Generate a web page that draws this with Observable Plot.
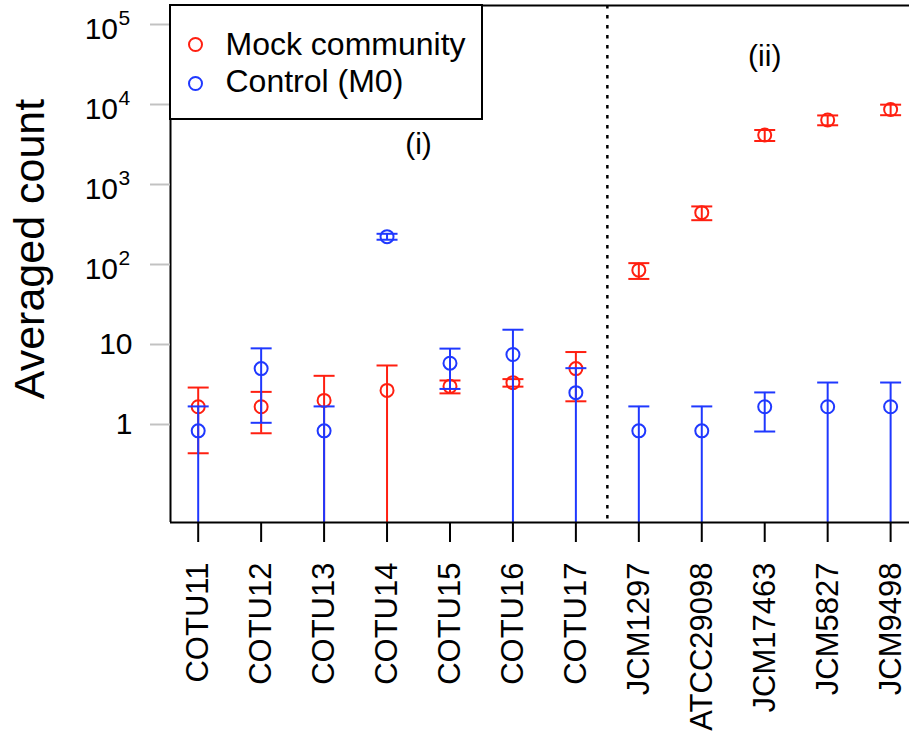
<!DOCTYPE html>
<html>
<head>
<meta charset="utf-8">
<script src="https://cdn.jsdelivr.net/npm/d3@7"></script>
<script src="https://cdn.jsdelivr.net/npm/@observablehq/plot@0.6"></script>
<style>
  body { margin: 0; background: #fff; font-family: "Liberation Sans", Arial, Helvetica, sans-serif; }
  #wrap { position: relative; width: 909px; height: 740px; overflow: hidden; }
  .legend { position: absolute; left: 169px; top: 4px; width: 314px; height: 116px; box-sizing: border-box; border: 2px solid #000; background: #fff; }
  .key { position: absolute; width: 15px; height: 15px; box-sizing: border-box; border: 2px solid; border-radius: 50%; }
  .lab { position: absolute; font-size: 32px; line-height: 32px; white-space: nowrap; color: #000; }
</style>
</head>
<body>
<div id="wrap"></div>
<script>
// Strains / OTUs along the x axis
const categories = ["COTU11", "COTU12", "COTU13", "COTU14", "COTU15", "COTU16", "COTU17",
                    "JCM1297", "ATCC29098", "JCM17463", "JCM5827", "JCM9498"];

// Averaged read counts and their standard deviations
const mockMean    = [1.667, 1.667, 2.0, 2.667, 3.0, 3.333, 5.0, 85, 445, 4150, 6400, 8650];
const mockSd      = [1.23, 0.89, 2.06, 2.8, 0.55, 0.36, 3.05, 19, 87, 650, 900, 1300];
const controlMean = [0.833, 5.0, 0.833, 223, 5.833, 7.5, 2.5, 0.833, 0.833, 1.667, 1.667, 1.667];
const controlSd   = [0.85, 3.95, 0.85, 19, 3.05, 7.8, 2.56, 0.85, 0.85, 0.85, 1.68, 1.68];

// Series names and colours
const seriesNames  = ["Mock community", "Control (M0)"];
const seriesColors = ["#ff1f10", "#1f38ff"];

// Axis ticks
const yTickValues = [1, 10, 100, 1000, 10000, 100000];

// Group annotations
const panelLabels = ["(i)", "(ii)"];
const panelX = [4.5, 10];
const panelY = [3200, 40000];
const groupBreak = 7.5;

// Scale extents
const xDomain = [0.56, 12.3];
const yDomain = [10 ** -1.225, 10 ** 5.2375];

function seriesRows(means, sds, color) {
  return categories.map((c, i) => {
    const lo = means[i] - sds[i];
    return {
      pos: i + 1,
      mean: means[i],
      hi: means[i] + sds[i],
      lo: lo,
      // non-positive lower limits run off the bottom of a log axis
      loDraw: lo > 0 ? lo : yDomain[0],
      color
    };
  });
}

const mockRows = seriesRows(mockMean, mockSd, seriesColors[0]);
const controlRows = seriesRows(controlMean, controlSd, seriesColors[1]);

// horizontal bar used as an error-bar cap
const capSymbol = {
  draw(context, size) {
    const r = Math.sqrt(size / Math.PI);
    context.moveTo(-r, 0);
    context.lineTo(r, 0);
  }
};

function errorMarks(rows) {
  const caps = [
    ...rows.map(d => ({pos: d.pos, v: d.hi, color: d.color})),
    ...rows.filter(d => d.lo > 0).map(d => ({pos: d.pos, v: d.lo, color: d.color}))
  ];
  return [
    Plot.ruleX(rows, {x: "pos", y1: "loDraw", y2: "hi", stroke: "color", strokeWidth: 2}),
    Plot.dot(caps, {x: "pos", y: "v", symbol: capSymbol, r: 10.5, stroke: "color", fill: "none", strokeWidth: 2}),
    Plot.dot(rows, {x: "pos", y: "mean", r: 6.5, stroke: "color", fill: "none", strokeWidth: 2})
  ];
}

const font = '"Liberation Sans", Arial, Helvetica, sans-serif';

const chart = Plot.plot({
  width: 909,
  height: 740,
  marginLeft: 170,
  marginRight: 0,
  marginTop: 5,
  marginBottom: 218,
  style: {fontFamily: font, background: "white", color: "black"},
  x: {type: "linear", domain: xDomain},
  y: {type: "log", domain: yDomain},
  color: {type: "identity"},
  marks: [
    // group divider
    Plot.ruleX([groupBreak], {stroke: "black", strokeWidth: 2.5, strokeDasharray: "3.5,6.5"}),

    ...errorMarks(mockRows),
    ...errorMarks(controlRows),

    // panel labels
    Plot.text(panelLabels, {x: (d, i) => panelX[i], y: (d, i) => panelY[i], text: d => d, fontSize: 30, fill: "black"}),

    // plot frame (left, top, bottom)
    Plot.ruleX([xDomain[0]], {stroke: "black", strokeWidth: 2}),
    Plot.ruleY([yDomain[0]], {stroke: "black", strokeWidth: 2}),
    Plot.ruleY([yDomain[1]], {stroke: "black", strokeWidth: 2}),

    // x axis with rotated category names
    Plot.axisX(d3.range(1, categories.length + 1), {
      tickFormat: d => categories[d - 1],
      tickRotate: -90,
      tickSize: 20,
      tickPadding: 20,
      fontSize: 31,
      color: "black",
      strokeWidth: 2,
      label: null
    }),

    // y axis ticks (grey)
    Plot.axisY(yTickValues, {tickSize: 20, tickFormat: () => "", stroke: "#c2c2c2", strokeWidth: 2, label: null}),

    // y tick labels: plain numbers and powers of ten
    Plot.text(yTickValues.filter(v => v < 100), {
      y: d => d, text: d => String(d), frameAnchor: "left", dx: -38,
      textAnchor: "end", fontSize: 30, fill: "black"
    }),
    Plot.text(yTickValues.filter(v => v >= 100), {
      y: d => d, text: () => "10", frameAnchor: "left", dx: -52.5, dy: 5,
      textAnchor: "end", fontSize: 30, fill: "black"
    }),
    Plot.text(yTickValues.filter(v => v >= 100), {
      y: d => d, text: d => String(Math.round(Math.log10(d))), frameAnchor: "left", dx: -52, dy: -6.5,
      textAnchor: "start", fontSize: 21, fill: "black"
    }),

    // y axis title
    Plot.text(["Averaged count"], {
      frameAnchor: "left", textAnchor: "middle", lineAnchor: "middle",
      rotate: -90, dx: -140, dy: -15,
      fontSize: 43, fill: "black"
    })
  ]
});

const wrap = document.getElementById("wrap");
wrap.appendChild(chart);

// legend box in the top-left corner of the panel
const legend = document.createElement("div");
legend.className = "legend";
wrap.appendChild(legend);
const keyTops = [36.5, 75.5];
const labTops = [27.9, 64.9];
seriesNames.forEach((name, i) => {
  const key = document.createElement("div");
  key.className = "key";
  key.style.left = "187.5px";
  key.style.top = keyTops[i] + "px";
  key.style.borderColor = seriesColors[i];
  wrap.appendChild(key);
  const lab = document.createElement("div");
  lab.className = "lab";
  lab.style.left = "225.5px";
  lab.style.top = labTops[i] + "px";
  lab.textContent = name;
  wrap.appendChild(lab);
});
</script>
</body>
</html>
